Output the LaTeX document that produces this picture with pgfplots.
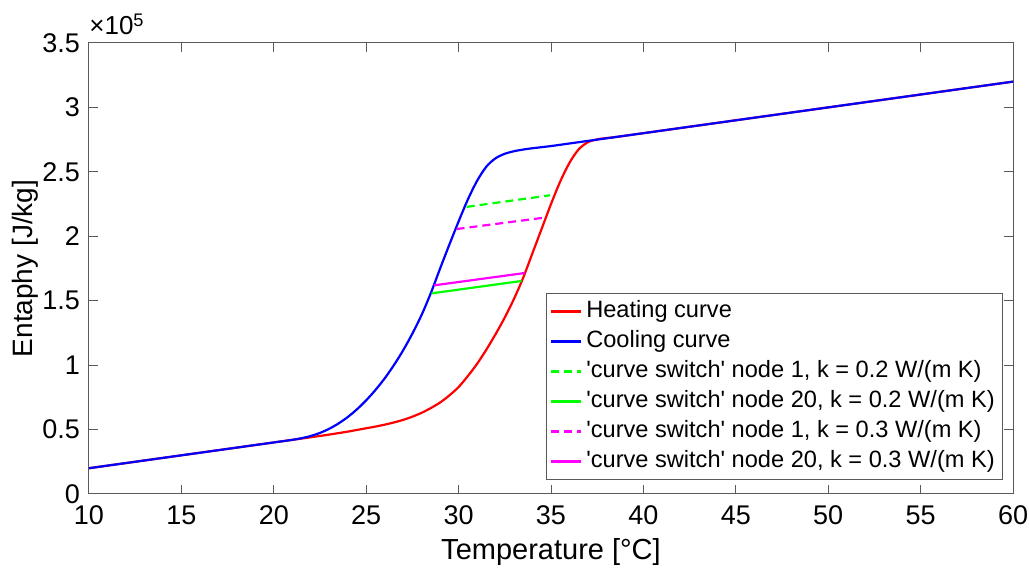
\documentclass[border=0pt]{standalone}
\usepackage{fontspec}
\setmainfont{Liberation Sans}
\usepackage{pgfplots}
\pgfplotsset{compat=1.18}

\definecolor{axgray}{gray}{0.35}
\definecolor{mred}{rgb}{1,0,0}
\definecolor{mblue}{rgb}{0,0,1}
\definecolor{mgreen}{rgb}{0,1,0}
\definecolor{mmagenta}{rgb}{1,0,1}

\begin{document}
\begin{tikzpicture}
\begin{axis}[
    scale only axis,
    width=462pt, height=225.5pt,
    clip mode=individual,
    xmin=10, xmax=60,
    ymin=0, ymax=350000,
    xtick={10,15,...,60},
    ytick={0,50000,...,350000},
    yticklabels={0,0.5,1,1.5,2,2.5,3,3.5},
    scaled y ticks=false,
    /pgf/number format/assume math mode=true,
    tick label style={font=\fontsize{13.5}{15}\selectfont},
    xticklabel style={yshift=-2.5pt},
    yticklabel style={xshift=-1pt},
    tick align=inside,
    major tick length=4.5pt,
    axis line style={axgray, line width=0.5pt},
    every tick/.style={axgray, line width=0.5pt},
    xlabel={Temperature [°C]},
    ylabel={Entaphy [J/kg]},
    every axis x label/.style={at={(rel axis cs:0.5,-0.1463)}, anchor=base,
        font=\fontsize{14.5}{16}\selectfont},
    every axis y label/.style={at={(rel axis cs:-0.0693,0.5)}, anchor=center,
        rotate=90, font=\fontsize{14}{16}\selectfont},
    legend cell align=left,
    legend image code/.code={\draw[#1] (0pt,0pt) -- (15pt,0pt);},
    legend style={
        at={(rel axis cs:0.9892,0.031)}, anchor=south east,
        font=\fontsize{11.8}{13}\selectfont,
        draw=axgray, line width=0.5pt,
        inner xsep=2pt, inner ysep=1.5pt,
        row sep=0pt,
        nodes={text height=8.8pt, text depth=2.4pt, inner sep=1.9pt},
    },
]
% heating curve
\addplot[mred, line width=1.1pt, smooth] coordinates {
    (10,20000) (15,30000) (20,40000) (21,42000) (22,44000) (23,46100)
    (24,48400) (25,51000) (25.5,52300) (26,53800) (26.5,55500)
    (27,57500) (27.5,60000) (28,63000) (28.5,66700) (29,71000)
    (29.5,76500) (30,83000) (30.5,91500) (31,101000) (31.5,112000)
    (32,124000) (32.5,137000) (33,151500) (33.5,168000) (34,187000)
    (34.5,206000) (35,225000) (35.5,242500) (36,257000) (36.5,267500)
    (37,273000) (37.5,275200) (38,276200) (38.5,277000) (40,280000)
    (50,300000) (60,320000)
};
\addlegendentry{Heating curve}
% cooling curve
\addplot[mblue, line width=1.1pt, smooth] coordinates {
    (10,20000) (15,30000) (20,40000) (21,42000) (21.5,43300) (22,45000)
    (22.5,47400) (23,50600) (23.5,54700) (24,59700) (24.5,65700)
    (25,72700) (25.5,80700) (26,89700) (26.5,100000) (27,111500)
    (27.5,124500) (28,139000) (28.5,156000) (29,175000) (29.5,193500)
    (30,211500) (30.5,228500) (31,243000) (31.5,254000) (32,260500)
    (32.5,264000) (33,266000) (33.5,267300) (34,268300) (35,270000)
    (36,272000) (37,274000) (38,276000) (40,280000) (50,300000)
    (60,320000)
};
\addlegendentry{Cooling curve}
% curve switches
\addplot[mgreen, line width=1.1pt, dash pattern=on 4pt off 2.5pt] coordinates {
    (30.44,222800) (34.95,231800)
};
\addlegendentry{\textquotesingle curve switch\textquotesingle{} node 1, k = 0.2 W/(m K)}
\addplot[mgreen, line width=1.1pt] coordinates {
    (28.54,155700) (33.41,165300)
};
\addlegendentry{\textquotesingle curve switch\textquotesingle{} node 20, k = 0.2 W/(m K)}
\addplot[mmagenta, line width=1.1pt, dash pattern=on 4pt off 2.5pt] coordinates {
    (29.89,205600) (34.77,214700)
};
\addlegendentry{\textquotesingle curve switch\textquotesingle{} node 1, k = 0.3 W/(m K)}
\addplot[mmagenta, line width=1.1pt] coordinates {
    (28.67,161900) (33.59,171500)
};
\addlegendentry{\textquotesingle curve switch\textquotesingle{} node 20, k = 0.3 W/(m K)}

\node[anchor=base west, inner sep=0pt, font=\fontsize{13}{15}\selectfont]
    at ([yshift=4pt]rel axis cs:0,1) {×10\textsuperscript{5}};
\coordinate (bbl) at (rel axis cs:-0.0963,-0.1663);
\coordinate (btr) at (rel axis cs:1.0173,1.0953);
\end{axis}
\pgfresetboundingbox
\path[use as bounding box] (bbl) rectangle (btr);
\end{tikzpicture}
\end{document}
